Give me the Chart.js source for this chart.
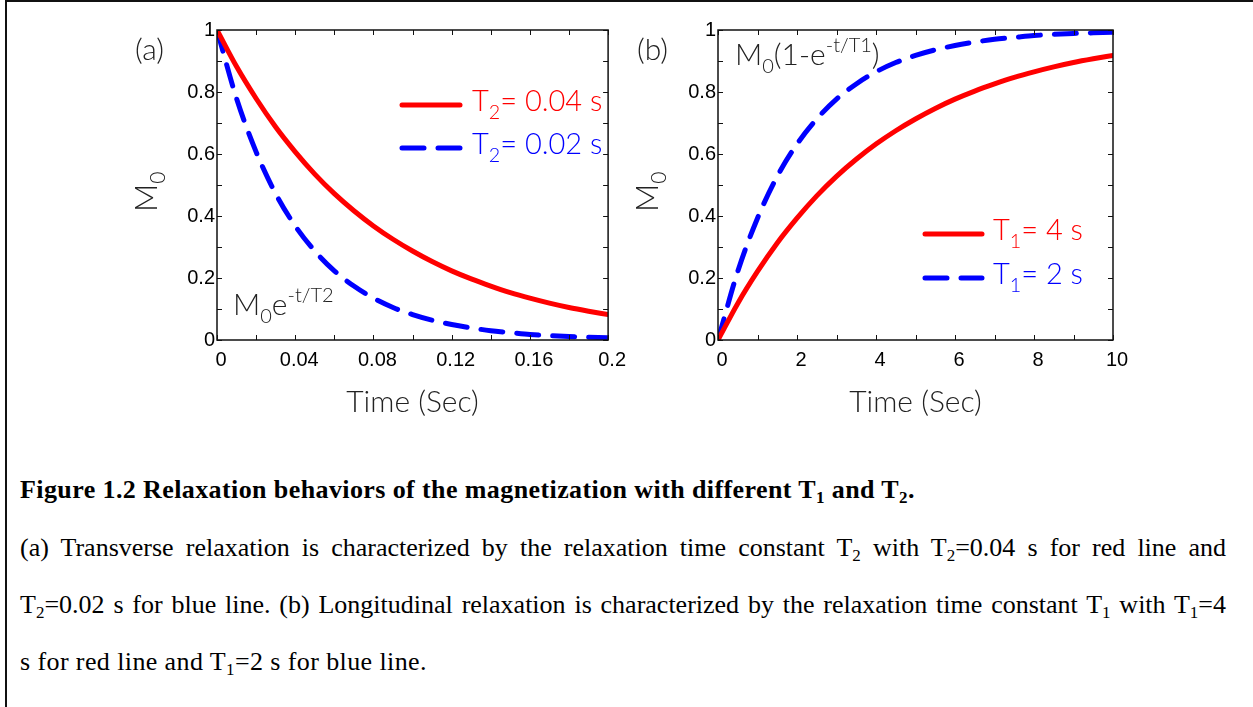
<!DOCTYPE html>
<html>
<head>
<meta charset="utf-8">
<script src="https://cdn.jsdelivr.net/npm/chart.js@4.4.1/dist/chart.umd.min.js"></script>
<style>
  body { margin:0; background:#fff; width:1253px; height:707px; overflow:hidden; position:relative; }
  #frame { position:absolute; left:5px; top:0; width:1260px; height:720px; border-top:2px solid #111; border-left:2px solid #111; }
  canvas { position:absolute; top:0; }
  #cA { left:0; }
  #cB { left:630px; }
  .cap { position:absolute; left:20px; width:1206px; font-family:"Liberation Serif","Times New Roman",serif; font-size:26px; letter-spacing:0.4px; line-height:30px; color:#000; }
  .just { text-align:justify; text-align-last:justify; letter-spacing:0; }
  .cap sub { font-size:17px; vertical-align:-5px; line-height:0; }
</style>
</head>
<body>
<div id="frame"></div>
<canvas id="cA" width="630" height="440"></canvas>
<canvas id="cB" width="623" height="440"></canvas>

<div class="cap" style="top:475px;font-weight:bold;">Figure 1.2 Relaxation behaviors of the magnetization with different T<sub>1</sub> and T<sub>2</sub>.</div>
<div class="cap just" style="top:533px;">(a) Transverse relaxation is characterized by the relaxation time constant T<sub>2</sub> with T<sub>2</sub>=0.04 s for red line and</div>
<div class="cap just" style="top:590px;">T<sub>2</sub>=0.02 s for blue line. (b) Longitudinal relaxation is characterized by the relaxation time constant T<sub>1</sub> with T<sub>1</sub>=4</div>
<div class="cap" style="top:647px;">s for red line and T<sub>1</sub>=2 s for blue line.</div>

<script>
// panel (a): transverse decay
const timeA = [0, 0.01, 0.02, 0.03, 0.04, 0.05, 0.06, 0.07, 0.08, 0.09, 0.10,
  0.11, 0.12, 0.13, 0.14, 0.15, 0.16, 0.17, 0.18, 0.19, 0.20];
const redA = [1, 0.882, 0.779, 0.687, 0.607, 0.535, 0.472, 0.417, 0.368, 0.325, 0.287,
  0.253, 0.223, 0.197, 0.174, 0.153, 0.135, 0.119, 0.105, 0.093, 0.082];
const blueA = [1, 0.779, 0.607, 0.472, 0.368, 0.287, 0.223, 0.174, 0.135, 0.105, 0.082,
  0.064, 0.050, 0.039, 0.030, 0.024, 0.018, 0.014, 0.011, 0.009, 0.007];

// panel (b): longitudinal recovery
const timeB = [0, 0.5, 1, 1.5, 2, 2.5, 3, 3.5, 4, 4.5, 5,
  5.5, 6, 6.5, 7, 7.5, 8, 8.5, 9, 9.5, 10];
const redB = [0, 0.118, 0.221, 0.313, 0.393, 0.465, 0.528, 0.583, 0.632, 0.675, 0.713,
  0.747, 0.777, 0.803, 0.826, 0.847, 0.865, 0.881, 0.895, 0.907, 0.918];
const blueB = [0, 0.221, 0.393, 0.528, 0.632, 0.713, 0.777, 0.826, 0.865, 0.895, 0.918,
  0.936, 0.950, 0.961, 0.970, 0.976, 0.982, 0.986, 0.989, 0.991, 0.993];

const xTicksA = [0, 0.04, 0.08, 0.12, 0.16, 0.2];
const xTickLabelsA = ['0', '0.04', '0.08', '0.12', '0.16', '0.2'];
const xTicksB = [0, 2, 4, 6, 8, 10];
const xTickLabelsB = ['0', '2', '4', '6', '8', '10'];
const yTicks = [0, 0.2, 0.4, 0.6, 0.8, 1];
const yTickLabels = ['0', '0.2', '0.4', '0.6', '0.8', '1'];

const legendA = [['T', '2', '= 0.04 s'], ['T', '2', '= 0.02 s']];
const legendB = [['T', '1', '= 4 s'], ['T', '1', '= 2 s']];

const RED = '#ff0000';
const BLUE = '#0000ff';
const SOFT = "'Lato', 'Open Sans', sans-serif";
const TICKFONT = "'Liberation Sans', Arial, sans-serif";

// draws a row of text pieces (for sub/superscripts), returns width
function drawRuns(ctx, x, y, runs, color) {
  ctx.save();
  ctx.fillStyle = color;
  ctx.textBaseline = 'alphabetic';
  ctx.textAlign = 'left';
  let cx = x;
  runs.forEach(r => {
    ctx.font = '300 ' + r.size + 'px ' + SOFT;
    ctx.fillText(r.text, cx, y + (r.dy || 0));
    cx += ctx.measureText(r.text).width;
  });
  ctx.restore();
  return cx - x;
}

function subRuns(main, sub, rest, size) {
  return [
    {text: main, size: size},
    {text: sub, size: size * 0.68, dy: size * 0.27},
    {text: rest, size: size}
  ];
}

const panelDecor = {
  id: 'panelDecor',
  afterDraw(chart, args, opts) {
    const ctx = chart.ctx;
    const area = chart.chartArea;
    const xs = chart.scales.x, ys = chart.scales.y;
    ctx.save();

    // frame
    ctx.strokeStyle = '#111';
    ctx.lineWidth = 1.5;
    ctx.strokeRect(area.left, area.top, area.right - area.left, area.bottom - area.top);

    // inward ticks on all four sides
    ctx.lineWidth = 1;
    ctx.beginPath();
    for (let v = xs.min; v <= xs.max + 1e-9; v += opts.minorX) {
      const px = Math.round(xs.getPixelForValue(v)) + 0.5;
      ctx.moveTo(px, area.bottom); ctx.lineTo(px, area.bottom - 5);
      ctx.moveTo(px, area.top); ctx.lineTo(px, area.top + 5);
    }
    for (let v = ys.min; v <= ys.max + 1e-9; v += opts.minorY) {
      const py = Math.round(ys.getPixelForValue(v)) + 0.5;
      ctx.moveTo(area.left, py); ctx.lineTo(area.left + 5, py);
      ctx.moveTo(area.right, py); ctx.lineTo(area.right - 5, py);
    }
    ctx.stroke();

    // legend
    chart.data.datasets.forEach((ds, i) => {
      const lg = opts.legend;
      const ly = lg.y[i];
      ctx.save();
      ctx.strokeStyle = ds.borderColor;
      ctx.lineWidth = ds.borderWidth;
      ctx.lineCap = 'round';
      ctx.setLineDash(ds.borderDash || []);
      ctx.beginPath();
      ctx.moveTo(lg.x0, ly);
      ctx.lineTo(lg.x1, ly);
      ctx.stroke();
      ctx.restore();
      const t = opts.legendText[i];
      drawRuns(ctx, lg.tx, ly + 6, subRuns(t[0], t[1], t[2], 29), ds.borderColor);
    });

    // panel letter
    drawRuns(ctx, opts.letter.x, opts.letter.y, [{text: opts.letter.text, size: 30}], '#222');

    // formula
    drawRuns(ctx, opts.formula.x, opts.formula.y, opts.formula.runs, '#222');

    // y axis title M0, rotated
    ctx.translate(opts.yTitle.x, opts.yTitle.y);
    ctx.rotate(-Math.PI / 2);
    drawRuns(ctx, 0, 0, subRuns('M', '0', '', 31), '#222');
    ctx.restore();
  }
};

function makePanel(id, times, red, blue, xMax, xTicks, xLabels, padRight, yWidth, decor) {
  return new Chart(document.getElementById(id), {
    type: 'line',
    data: {
      datasets: [
        {
          data: times.map((t, i) => ({x: t, y: red[i]})),
          borderColor: RED, borderWidth: 5, pointRadius: 0,
          cubicInterpolationMode: 'monotone', borderCapStyle: 'round', borderJoinStyle: 'round'
        },
        {
          data: times.map((t, i) => ({x: t, y: blue[i]})),
          borderColor: BLUE, borderWidth: 5, pointRadius: 0, borderDash: [22, 14],
          cubicInterpolationMode: 'monotone', borderCapStyle: 'round', borderJoinStyle: 'round'
        }
      ]
    },
    options: {
      responsive: false,
      animation: false,
      events: [],
      layout: {padding: {left: 0, top: 30, right: padRight, bottom: 20}},
      plugins: {legend: {display: false}, tooltip: {enabled: false}, panelDecor: decor},
      scales: {
        x: {
          type: 'linear', min: 0, max: xMax,
          afterFit(s) { s.height = 80; },
          afterBuildTicks(s) { s.ticks = xTicks.map(v => ({value: v})); },
          ticks: {
            callback: (v, i) => xLabels[i],
            font: {family: TICKFONT, size: 20}, color: '#000',
            padding: 8, labelOffset: 4, maxRotation: 0, autoSkip: false
          },
          grid: {display: false, drawTicks: false},
          border: {display: false},
          title: {
            display: true, text: 'Time (Sec)', color: '#222',
            font: {family: SOFT, size: 30, weight: '300'},
            padding: {top: 0, bottom: 0}
          }
        },
        y: {
          min: 0, max: 1,
          afterFit(s) { s.width = yWidth; },
          afterBuildTicks(s) { s.ticks = yTicks.map(v => ({value: v})); },
          ticks: {
            callback: (v, i) => yTickLabels[i],
            font: {family: TICKFONT, size: 20}, color: '#000', padding: 2
          },
          grid: {display: false, drawTicks: false},
          border: {display: false}
        }
      }
    },
    plugins: [panelDecor]
  });
}

makePanel('cA', timeA, redA, blueA, 0.2, xTicksA, xTickLabelsA, 19, 217, {
  minorX: 0.02, minorY: 0.1,
  legend: {x0: 402, x1: 460, tx: 472, y: [105, 148]},
  legendText: legendA,
  letter: {text: '(a)', x: 135, y: 60},
  formula: {x: 233, y: 315, runs: [
    {text: 'M', size: 30}, {text: '0', size: 20, dy: 8},
    {text: 'e', size: 30}, {text: '-t/T2', size: 20, dy: -13}
  ]},
  yTitle: {x: 157, y: 212}
});

makePanel('cB', timeB, redB, blueB, 10, xTicksB, xTickLabelsB, 140, 88, {
  minorX: 1, minorY: 0.1,
  legend: {x0: 295, x1: 352, tx: 363, y: [234, 278]},
  legendText: legendB,
  letter: {text: '(b)', x: 7, y: 60},
  formula: {x: 105, y: 65, runs: [
    {text: 'M', size: 30}, {text: '0', size: 20, dy: 8},
    {text: '(1-e', size: 30}, {text: '-t/T1', size: 20, dy: -13}, {text: ')', size: 30}
  ]},
  yTitle: {x: 28, y: 212}
});
</script>
</body>
</html>
